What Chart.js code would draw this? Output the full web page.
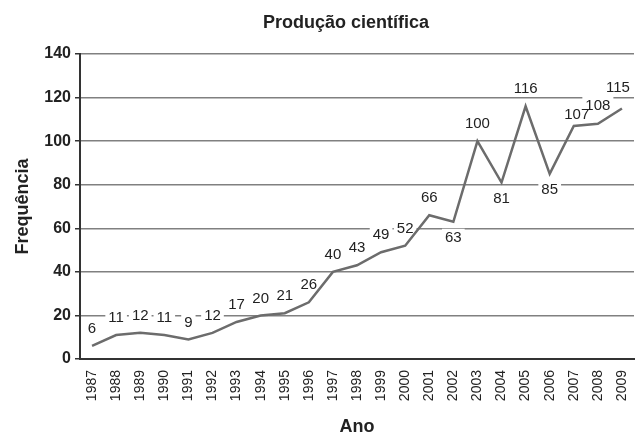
<!DOCTYPE html>
<html>
<head>
<meta charset="utf-8">
<script src="https://cdn.jsdelivr.net/npm/chart.js@4/dist/chart.umd.min.js"></script>
<style>
  html, body { margin: 0; padding: 0; background: #fff; }
  #wrap { width: 639px; height: 438px; }
</style>
</head>
<body>
<div id="wrap"><canvas id="chart" width="639" height="438"></canvas></div>
<script>
// Data
const years = ["1987", "1988", "1989", "1990", "1991", "1992", "1993", "1994", "1995", "1996", "1997", "1998",
  "1999", "2000", "2001", "2002", "2003", "2004", "2005", "2006", "2007", "2008", "2009"];
const frequencia = [6, 11, 12, 11, 9, 12, 17, 20, 21, 26, 40, 43, 49, 52, 66, 63, 100, 81, 116, 85, 107, 108, 115];
const yTicks = [0, 20, 40, 60, 80, 100, 120, 140];

const chartTitle = "Produção científica";
const xTitle = "Ano";
const yTitle = "Frequência";

// years whose value label sits under the line
const labelBelow = ["2002", "2004", "2006"];
// small hand nudges where labels crowd (px)
const labelNudge = { "2007": [3, 6], "2008": [0, -1], "2009": [-4, -4] };

const FONT = "'Liberation Sans', Arial, Helvetica, sans-serif";

// value labels with white boxes over the gridlines (line is drawn on top), plus the title
const labelPlugin = {
  id: "labels",
  beforeDatasetsDraw(chart) {
    const ctx = chart.ctx;
    const meta = chart.getDatasetMeta(0);
    ctx.save();
    ctx.font = "15px " + FONT;
    ctx.textAlign = "center";
    ctx.textBaseline = "middle";
    const spots = meta.data.map((pt, i) => {
      const txt = String(frequencia[i]);
      const below = labelBelow.includes(years[i]);
      const nudge = labelNudge[years[i]] || [0, 0];
      return {
        txt,
        x: pt.x + nudge[0],
        y: (below ? pt.y + 15 : pt.y - 18) + nudge[1],
        w: ctx.measureText(txt).width + 6
      };
    });
    // boxes first, then text, so neighbours don't hide each other
    ctx.fillStyle = "#fff";
    spots.forEach(s => ctx.fillRect(s.x - s.w / 2, s.y - 8, s.w, 16));
    ctx.fillStyle = "#222";
    spots.forEach(s => ctx.fillText(s.txt, s.x, s.y + 1));
    ctx.font = "bold 18px " + FONT;
    ctx.fillText(chartTitle, 346, 23);
    ctx.restore();
  }
};

new Chart(document.getElementById("chart"), {
  type: "line",
  data: {
    labels: years,
    datasets: [{
      label: yTitle,
      data: frequencia,
      borderColor: "#6c6c6c",
      borderWidth: 2.5,
      pointRadius: 0,
      tension: 0,
      fill: false
    }]
  },
  options: {
    responsive: false,
    animation: false,
    layout: { padding: { top: 54, right: 5, left: 0, bottom: 0 } },
    plugins: {
      legend: { display: false },
      title: { display: false },
      tooltip: { enabled: false }
    },
    scales: {
      x: {
        offset: true,
        afterFit: (s) => { s.height = 79; s.paddingLeft = 0; s.paddingRight = 0; },
        grid: { drawOnChartArea: false, drawTicks: false },
        border: { display: true, color: "#333", width: 2 },
        ticks: {
          autoSkip: false, maxRotation: 90, minRotation: 90, padding: 11,
          color: "#222", font: { family: FONT, size: 14 }
        },
        title: {
          display: true, text: xTitle, color: "#222",
          font: { family: FONT, size: 18, weight: "bold" },
          padding: { top: 0, bottom: 0 }
        }
      },
      y: {
        min: 0, max: 140,
        afterFit: (s) => { s.width = 80; },
        afterBuildTicks: (s) => { s.ticks = yTicks.map(v => ({ value: v })); },
        grid: { color: "#808080", lineWidth: 1.5, tickLength: 5, tickColor: "#333" },
        border: { display: true, color: "#333", width: 2 },
        ticks: {
          padding: 4, color: "#222",
          font: { family: FONT, size: 16, weight: "bold" }
        },
        title: {
          display: true, text: yTitle, color: "#222",
          font: { family: FONT, size: 18, weight: "bold" },
          padding: { top: 12, bottom: 0 }
        }
      }
    }
  },
  plugins: [labelPlugin]
});
</script>
</body>
</html>
